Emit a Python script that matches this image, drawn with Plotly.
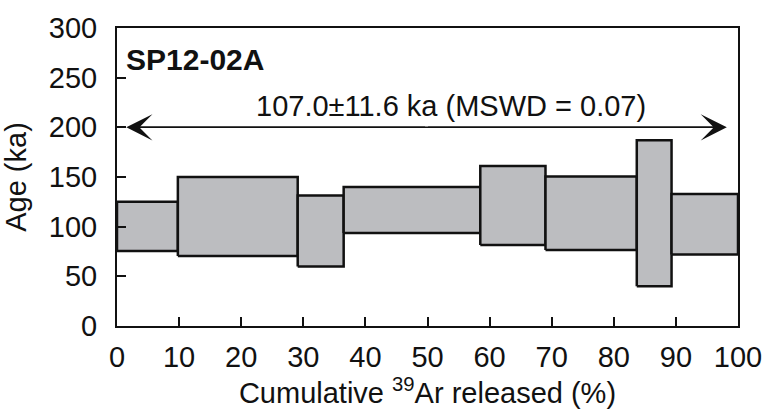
import plotly.graph_objects as go

# Step data (cumulative 39Ar released %, age bounds in ka)
step_start = [0.0, 9.8, 29.1, 36.5, 58.5, 69.0, 83.7, 89.3]
step_end = [9.8, 29.1, 36.5, 58.5, 69.0, 83.7, 89.3, 100.0]
age_low = [75.5, 70.5, 60.0, 93.5, 81.5, 76.5, 40.0, 72.0]
age_high = [125.0, 150.0, 131.5, 140.0, 161.0, 150.5, 187.0, 133.0]

plateau_age = 200
plateau_left = 1.5
plateau_right = 98.2
plateau_label = "107.0±11.6 ka (MSWD = 0.07)"
sample_name = "SP12-02A"

x_ticks = [0, 10, 20, 30, 40, 50, 60, 70, 80, 90, 100]
y_ticks = [0, 50, 100, 150, 200, 250, 300]

FONT = "Liberation Sans, Arial, Helvetica, sans-serif"
FILL = "#BCBDC0"

fig = go.Figure()
for x0, x1, lo, hi in zip(step_start, step_end, age_low, age_high):
    fig.add_trace(go.Scatter(
        x=[x0, x1, x1, x0, x0], y=[lo, lo, hi, hi, lo],
        mode="lines", fill="toself", fillcolor=FILL,
        line=dict(color="#111111", width=2.5),
        hoverinfo="skip", showlegend=False,
    ))

# plateau arrow shaft
fig.add_trace(go.Scatter(
    x=[plateau_left + 1, plateau_right - 1], y=[plateau_age, plateau_age],
    mode="lines", line=dict(color="#111111", width=1.5),
    hoverinfo="skip", showlegend=False,
))

mid = (plateau_left + plateau_right) / 2
for tip in (plateau_left, plateau_right):
    fig.add_annotation(
        x=tip, y=plateau_age, ax=mid, ay=plateau_age,
        xref="x", yref="y", axref="x", ayref="y",
        showarrow=True, arrowhead=3, arrowsize=2.9, arrowwidth=1.5,
        arrowcolor="#111111", text="",
    )

fig.add_annotation(
    x=(plateau_left + plateau_right) / 2 + 4, y=plateau_age, xref="x", yref="y",
    text=plateau_label, showarrow=False, yanchor="bottom", yshift=3,
    font=dict(family=FONT, size=29, color="#111111"),
)
fig.add_annotation(
    x=0.012, y=0.955, xref="paper", yref="paper",
    text="<b>" + sample_name + "</b>", showarrow=False,
    xanchor="left", yanchor="top",
    font=dict(family=FONT, size=30, color="#111111"),
)

fig.update_layout(
    width=774, height=409,
    margin=dict(l=117, r=33, t=22, b=73),
    paper_bgcolor="white", plot_bgcolor="white",
    font=dict(family=FONT, size=28, color="#111111"),
    xaxis=dict(
        range=[0, 100], tickvals=x_ticks, ticks="inside", ticklen=9,
        tickwidth=1.5, tickcolor="#111111", showgrid=False, zeroline=False,
        showline=True, linecolor="#111111", linewidth=2, mirror=True,
        ticklabelstandoff=4,
        title=dict(text="Cumulative <sup>39</sup>Ar released (%)", standoff=4,
                   font=dict(size=29)),
        tickfont=dict(size=29),
    ),
    yaxis=dict(
        range=[0, 300], tickvals=y_ticks, ticks="inside", ticklen=9,
        tickwidth=1.5, tickcolor="#111111", showgrid=False, zeroline=False,
        showline=True, linecolor="#111111", linewidth=2, mirror=True,
        ticklabelstandoff=12,
        title=dict(text="Age (ka)", standoff=14, font=dict(size=29)),
        tickfont=dict(size=29),
    ),
)

fig.write_html("out.html")
